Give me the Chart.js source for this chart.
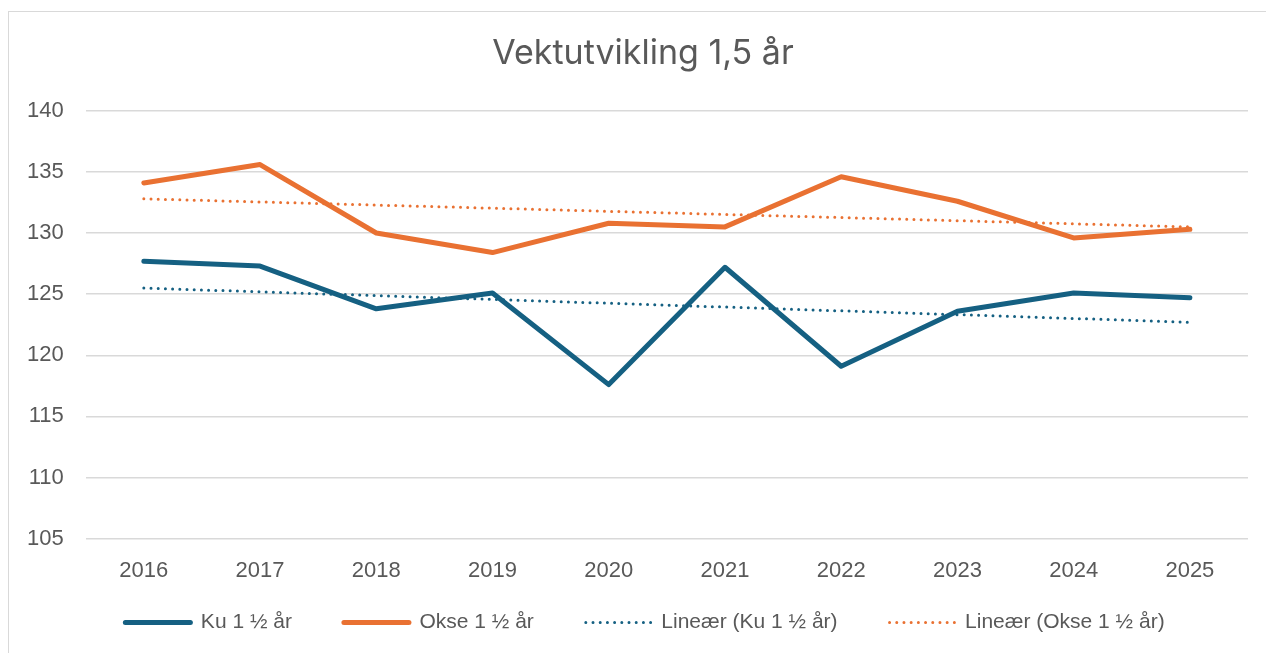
<!DOCTYPE html>
<html>
<head>
<meta charset="utf-8">
<script src="https://cdn.jsdelivr.net/npm/chart.js@4/dist/chart.umd.min.js"></script>
<style>
    html, body { margin: 0; padding: 0; background: #fff; overflow: hidden; }
    #box {
        position: absolute; left: 8px; top: 11px;
        width: 1300px; height: 700px;
        border: 1.5px solid #d9d9d9;
        box-sizing: border-box;
    }
    #wrap { position: absolute; left: 9px; top: 12px; width: 1257px; height: 641px; }
</style>
</head>
<body>
<div id="box"></div>
<div id="wrap"><canvas id="chart"></canvas></div>
<script>
// År
let years = ["2016", "2017", "2018", "2019", "2020", "2021", "2022", "2023", "2024", "2025"];

// Vekt 1,5 år (kg), lest av figuren
let kuValues   = [127.7, 127.3, 123.8, 125.1, 117.6, 127.2, 119.1, 123.6, 125.1, 124.7];
let okseValues = [134.1, 135.6, 130.0, 128.4, 130.8, 130.5, 134.6, 132.6, 129.6, 130.3];

// Lineære trendlinjer: kun start- og sluttpunkt lest av figuren
let kuTrend   = [125.5, null, null, null, null, null, null, null, null, 122.7];
let okseTrend = [132.8, null, null, null, null, null, null, null, null, 130.5];

let yTicks = { min: 105, max: 140, step: 5 };

const blue = '#156082';
const orange = '#e97132';
const textColor = '#595959';
const gridColor = '#d9d9d9';
const font = "'Liberation Sans', Arial, sans-serif";

let ctx = document.getElementById('chart').getContext('2d');

// legenden skal bruke linjestilen til datasettet (også prikkene)
function legendLabels(chart) {
    return chart.data.datasets.map((ds, i) => ({
        text: ds.label,
        datasetIndex: i,
        strokeStyle: ds.borderColor,
        fillStyle: ds.borderColor,
        fontColor: textColor,
        lineWidth: ds.borderWidth,
        lineDash: ds.borderDash || [],
        lineCap: 'round',
        pointStyle: 'line',
        hidden: false
    }));
}

// tegner en boks (tittel / legende) litt forskjøvet
function shiftBox(box, dx, dy) {
    const draw = box.draw;
    box.draw = function() {
        const saved = { left: this.left, right: this.right, top: this.top, bottom: this.bottom };
        this.left += dx;
        this.right += dx;
        this.top += dy;
        draw.apply(this, arguments);
        Object.assign(this, saved);
    };
}

const legendShrink = 43;

const boxShift = {
    id: 'boxShift',
    beforeLayout(chart) {
        if (chart._boxShifted) return;
        chart._boxShifted = true;
        shiftBox(chart.titleBlock, 16.5, 0);
        // legenden tar mindre plass i høyden, så plottet blir høyere
        const legend = chart.legend;
        const fit = legend.fit;
        legend.fit = function() {
            fit.apply(this, arguments);
            this.height -= legendShrink;
        };
        shiftBox(legend, 18.5, -legendShrink);
    }
};

new Chart(ctx, {
    type: 'line',
    data: {
        labels: years,
        datasets: [
            {
                label: 'Ku 1 ½ år',
                data: kuValues,
                borderColor: blue,
                backgroundColor: blue,
                borderWidth: 5,
                borderCapStyle: 'round',
                borderJoinStyle: 'round',
                pointRadius: 0,
                tension: 0
            },
            {
                label: 'Okse 1 ½ år',
                data: okseValues,
                borderColor: orange,
                backgroundColor: orange,
                borderWidth: 5,
                borderCapStyle: 'round',
                borderJoinStyle: 'round',
                pointRadius: 0,
                tension: 0
            },
            {
                label: 'Lineær (Ku 1 ½ år)',
                data: kuTrend,
                borderColor: blue,
                backgroundColor: blue,
                borderWidth: 3,
                borderDash: [0, 7.2],
                borderCapStyle: 'round',
                pointRadius: 0,
                spanGaps: true
            },
            {
                label: 'Lineær (Okse 1 ½ år)',
                data: okseTrend,
                borderColor: orange,
                backgroundColor: orange,
                borderWidth: 3,
                borderDash: [0, 7.2],
                borderCapStyle: 'round',
                pointRadius: 0,
                spanGaps: true
            }
        ]
    },
    options: {
        responsive: true,
        maintainAspectRatio: false,
        animation: false,
        layout: {
            padding: { left: -4, right: 18, top: 0, bottom: 10 }
        },
        plugins: {
            title: {
                display: true,
                text: 'Vektutvikling 1,5 år',
                color: textColor,
                font: { family: "Inter, 'Noto Sans', sans-serif", size: 34, weight: 'normal' },
                padding: { top: 21, bottom: 37 }
            },
            legend: {
                position: 'bottom',
                labels: {
                    usePointStyle: true,
                    pointStyle: 'line',
                    pointStyleWidth: 65,
                    boxHeight: 8,
                    padding: 52,
                    color: textColor,
                    font: { family: font, size: 21 },
                    generateLabels: legendLabels
                }
            },
            tooltip: { enabled: false }
        },
        scales: {
            x: {
                offset: true,
                grid: { display: false, drawTicks: false },
                border: { display: false },
                ticks: {
                    color: textColor,
                    font: { family: font, size: 22 },
                    padding: 19,
                    maxRotation: 0
                }
            },
            y: {
                min: yTicks.min,
                max: yTicks.max,
                grid: { color: gridColor, lineWidth: 1.5, drawTicks: false },
                border: { display: false },
                ticks: {
                    stepSize: yTicks.step,
                    color: textColor,
                    font: { family: font, size: 22 },
                    padding: 22
                }
            }
        }
    },
    plugins: [boxShift]
});
</script>
</body>
</html>
